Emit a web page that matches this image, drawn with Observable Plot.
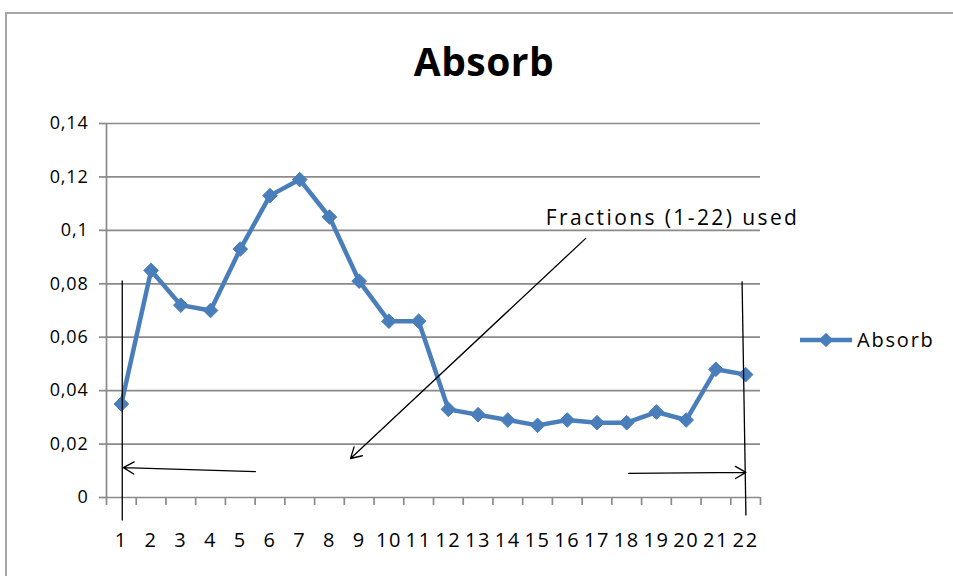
<!DOCTYPE html>
<html>
<head>
<meta charset="utf-8">
<script src="https://cdn.jsdelivr.net/npm/d3@7"></script>
<script src="https://cdn.jsdelivr.net/npm/@observablehq/plot@0.6"></script>
<style>
  body { margin: 0; background: #fff; }
  #wrap { position: relative; width: 953px; height: 576px; overflow: hidden; background: #fff; font-family: "Open Sans", sans-serif; }
  #frame { position: absolute; left: 5px; top: 12px; width: 1100px; height: 800px; border: 2px solid #a6a6a6; box-sizing: border-box; }
  #title { position: absolute; left: 0; top: 36px; width: 968px; text-align: center; font-size: 39px; font-weight: 700; line-height: 50px; color: #000; letter-spacing: 0.5px; }
  #chart { position: absolute; left: 0; top: 95px; }
  #legend { position: absolute; left: 798px; top: 326px; display: flex; align-items: center; font-size: 20px; letter-spacing: 1.8px; color: #000; }
</style>
</head>
<body>
<div id="wrap">
  <div id="frame"></div>
  <div id="title">Absorb</div>
  <div id="chart"></div>
  <div id="legend"></div>
</div>
<script>
// ---- data ----
const fractions = [1, 2, 3, 4, 5, 6, 7, 8, 9, 10, 11, 12, 13, 14, 15, 16, 17, 18, 19, 20, 21, 22];
const absorb = [0.035, 0.085, 0.072, 0.070, 0.093, 0.113, 0.119, 0.105, 0.081, 0.066, 0.066,
                0.033, 0.031, 0.029, 0.027, 0.029, 0.028, 0.028, 0.032, 0.029, 0.048, 0.046];
const yTicks = [0, 0.02, 0.04, 0.06, 0.08, 0.10, 0.12, 0.14];
const yTickLabels = ["0", "0,02", "0,04", "0,06", "0,08", "0,1", "0,12", "0,14"];
const xTickLabels = fractions.map(String);
const seriesName = "Absorb";
const noteText = "Fractions (1-22) used";
// hand-drawn annotation lines (in fraction / absorbance units)
const bracketX1 = [1.03, 21.88];
const bracketY1 = [0.0812, 0.0809];
const bracketX2 = [1.03, 22.01];
const bracketY2 = [-0.0086, -0.0067];
const arrowX1 = [5.51, 18.07, 16.62];
const arrowY1 = [0.0097, 0.0090, 0.0970];
const arrowX2 = [1.07, 22.01, 8.71];
const arrowY2 = [0.0112, 0.0094, 0.0146];
const noteX = [15.28];
const noteY = [0.1045];

// ---- build tables ----
const data = fractions.map((f, i) => ({fraction: f, absorb: absorb[i]}));
const brackets = bracketX1.map((d, i) => ({x1: d, y1: bracketY1[i], x2: bracketX2[i], y2: bracketY2[i]}));
const arrows = arrowX1.map((d, i) => ({x1: d, y1: arrowY1[i], x2: arrowX2[i], y2: arrowY2[i]}));
const notes = noteX.map((d, i) => ({x: d, y: noteY[i], text: noteText}));
const edges = [0.5, ...fractions.map(f => f + 0.5)];

const blue = "#4A7EBB";
const grey = "#8a8a8a";

const chart = Plot.plot({
  width: 953,
  height: 481,
  marginTop: 28,
  marginBottom: 79,
  marginLeft: 106,
  marginRight: 193,
  style: {fontFamily: "Open Sans, sans-serif", fontSize: "18px", color: "#000", background: "transparent", overflow: "visible"},
  x: {type: "linear", domain: [0.5, 22.5]},
  y: {domain: [0, 0.14]},
  marks: [
    Plot.ruleY(yTicks, {stroke: grey, strokeWidth: 1.7}),
    Plot.ruleX([0.5], {y1: 0, y2: 0.14, stroke: grey, strokeWidth: 1.7}),
    Plot.axisY(yTicks, {tickSize: 7, tickFormat: () => "", stroke: grey, strokeWidth: 1.7}),
    Plot.axisY(yTicks, {tickSize: 0, tickPadding: 18, tickFormat: (d) => yTickLabels[yTicks.indexOf(d)], fontSize: 18}),
    Plot.axisX(edges, {tickSize: 8, tickFormat: () => "", stroke: grey, strokeWidth: 1.7}),
    Plot.axisX(fractions, {tickSize: 0, tickPadding: 35, tickFormat: (d) => xTickLabels[fractions.indexOf(d)], fontSize: 20}),
    Plot.line(data, {x: "fraction", y: "absorb", stroke: blue, strokeWidth: 4.5}),
    Plot.dot(data, {x: "fraction", y: "absorb", symbol: "diamond2", r: 6.6, fill: blue, stroke: blue, strokeWidth: 1}),
    Plot.link(brackets, {x1: "x1", y1: "y1", x2: "x2", y2: "y2", stroke: "#000", strokeWidth: 1.3}),
    Plot.arrow(arrows, {x1: "x1", y1: "y1", x2: "x2", y2: "y2", stroke: "#000", strokeWidth: 1.3, headLength: 14, bend: 0}),
    Plot.text(notes, {x: "x", y: "y", text: "text", textAnchor: "start", fontSize: 21, fill: "#000"})
  ]
});
d3.select(chart).selectAll("text").each(function() {
  const t = this.textContent;
  if (t === noteText) this.setAttribute("letter-spacing", "2.4");
  else if (xTickLabels.includes(t) && !yTickLabels.includes(t)) this.setAttribute("letter-spacing", "1.6");
  else if (yTickLabels.includes(t)) this.setAttribute("letter-spacing", "0.8");
});
document.getElementById("chart").appendChild(chart);

// legend
const leg = d3.select("#legend");
const ls = leg.append("svg").attr("width", 56).attr("height", 26);
ls.append("line").attr("x1", 2).attr("x2", 54).attr("y1", 13).attr("y2", 13).attr("stroke", blue).attr("stroke-width", 4.5);
ls.append("path").attr("d", d3.symbol(d3.symbolDiamond2, Math.PI * 6.6 * 6.6)()).attr("transform", "translate(28,13)").attr("fill", blue);
leg.append("span").text(seriesName).style("margin-left", "3px");
</script>
</body>
</html>
